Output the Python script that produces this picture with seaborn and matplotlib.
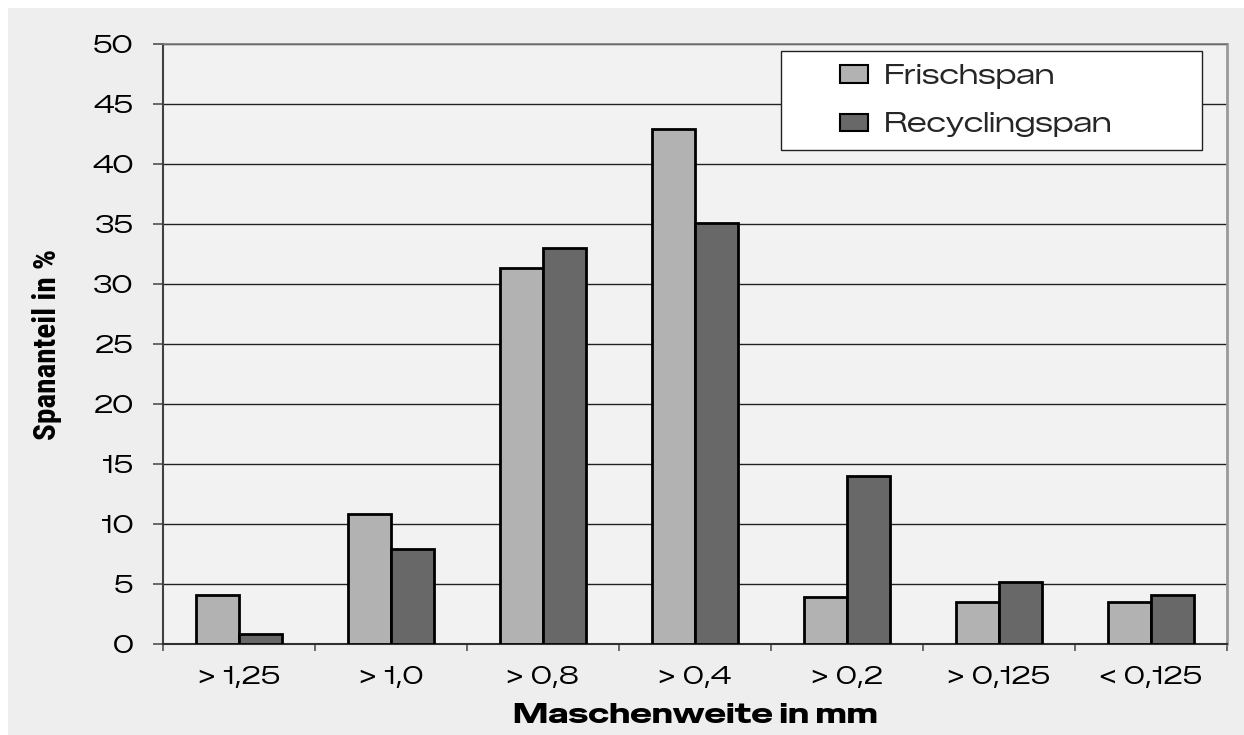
import matplotlib
matplotlib.use("Agg")
import matplotlib.pyplot as plt
from matplotlib.patches import Rectangle
from matplotlib.ticker import FixedLocator, MultipleLocator
import seaborn as sns
import pandas as pd

# Sieve fractions (mesh width in mm) and chip share in percent
categories = ["> 1,25", "> 1,0", "> 0,8", "> 0,4", "> 0,2", "> 0,125", "< 0,125"]
frischspan = [4.1, 10.8, 31.3, 42.9, 3.9, 3.5, 3.5]
recyclingspan = [0.8, 7.9, 33.0, 35.1, 14.0, 5.2, 4.1]
series_names = ["Frischspan", "Recyclingspan"]
series_colors = ["#b2b2b2", "#686868"]

df = pd.DataFrame({
    "Maschenweite": categories * 2,
    "Anteil": frischspan + recyclingspan,
    "Sorte": [series_names[0]] * len(categories) + [series_names[1]] * len(categories),
})

WIDE = ["Zalando Sans Expanded", "Liberation Sans", "DejaVu Sans"]
WIDE_BOLD = ["Special Gothic Expanded One", "DejaVu Sans"]
NARROW = ["Roboto Condensed", "PT Sans Narrow", "Liberation Sans", "DejaVu Sans"]

sns.set_theme(style="white")
plt.rcParams["font.family"] = WIDE

fig = plt.figure(figsize=(12.44, 7.35), dpi=100, facecolor="white")
# grey chart area with a thin white margin on top and left
fig.patches.append(Rectangle((8 / 1244, 0), 1, 1 - 8 / 735, transform=fig.transFigure,
                             facecolor="#eeeeee", edgecolor="none", zorder=-10))
ax = fig.add_axes([163 / 1244, 1 - 644 / 735, 1064 / 1244, 600 / 735])
ax.set_facecolor("#f2f2f2")

sns.barplot(data=df, x="Maschenweite", y="Anteil", hue="Sorte",
            palette=dict(zip(series_names, series_colors)),
            order=categories, hue_order=series_names,
            width=0.566, gap=0, edgecolor="black", linewidth=2,
            saturation=1, errorbar=None, legend=False, ax=ax, zorder=3)

ax.set_xlim(-0.5, len(categories) - 0.5)
ax.set_ylim(0, 50)
ax.yaxis.set_major_locator(MultipleLocator(5))
ax.grid(axis="y", color="#222222", linewidth=1.0, zorder=0)
ax.set_axisbelow(True)

for name, sp in ax.spines.items():
    sp.set_visible(True)
ax.spines["top"].set_color("#7a7a7a")
ax.spines["top"].set_linewidth(1.2)
ax.spines["right"].set_color("#9a9a9a")
ax.spines["right"].set_linewidth(2.0)
ax.spines["left"].set_color("#404040")
ax.spines["left"].set_linewidth(1.5)
ax.spines["bottom"].set_color("#303030")
ax.spines["bottom"].set_linewidth(1.5)

ax.tick_params(axis="y", direction="out", length=7.2, width=1.2, color="#505050",
               pad=14, labelsize=17.5, labelcolor="black", left=True)
ax.xaxis.set_minor_locator(FixedLocator([i - 0.5 for i in range(len(categories) + 1)]))
ax.tick_params(axis="x", which="major", length=0, pad=16, labelsize=17.5, labelcolor="black")
ax.tick_params(axis="x", which="minor", direction="out", length=5, width=1.2,
               color="#505050", bottom=True)

ax.set_xlabel("Maschenweite in mm", fontsize=21, color="black", family=WIDE_BOLD)
ax.xaxis.set_label_coords(0.5, -0.098)
ax.set_ylabel("Spananteil in %", fontsize=22.5, fontweight="bold", color="black",
              family=NARROW)
ax.yaxis.set_label_coords(-0.095, 0.5)

# legend box
bx0, by0 = (781 - 163) / 1064, (644 - 150) / 600
bw, bh = (1202 - 781) / 1064, (150 - 51) / 600
ax.add_patch(Rectangle((bx0, by0), bw, bh, transform=ax.transAxes, facecolor="white",
                       edgecolor="#222222", linewidth=1.0, zorder=5))
handles = [Rectangle((0, 0), 1, 1, facecolor=c, edgecolor="black", linewidth=1.5)
           for c in series_colors]
leg = ax.legend(handles, series_names, loc="center left",
                bbox_to_anchor=((826 - 163) / 1064, by0 + bh / 2),
                frameon=False, fontsize=20, handlelength=1.0, handleheight=0.6,
                handletextpad=0.6, labelspacing=0.85, borderpad=0)
leg.set_zorder(6)

fig.savefig("out.png", dpi=100, facecolor=fig.get_facecolor())
